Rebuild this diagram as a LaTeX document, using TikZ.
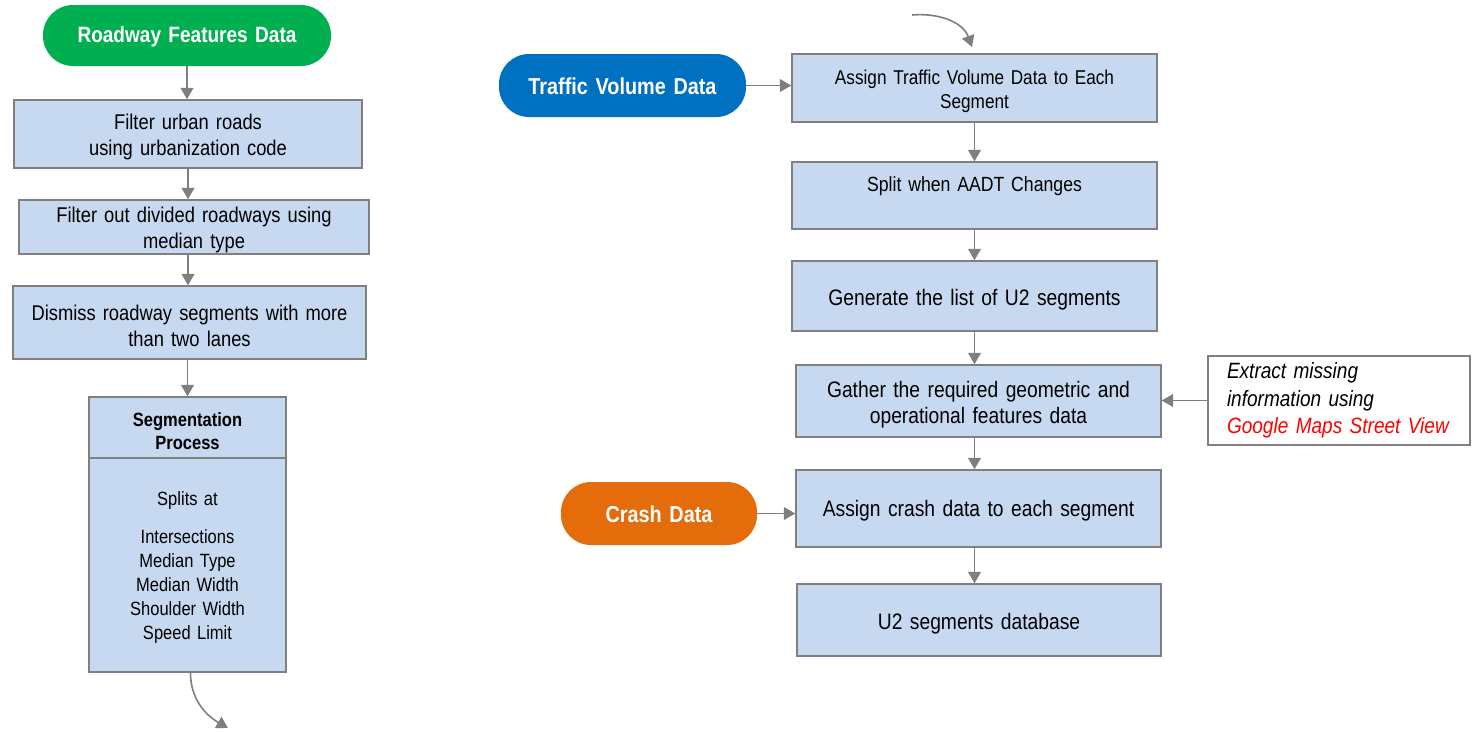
\documentclass[tikz,border=0pt]{standalone}
\usepackage{fontspec}
\setmainfont{Liberation Sans}[FakeStretch=0.86]
\usetikzlibrary{arrows.meta}
\definecolor{boxfill}{HTML}{C6D9F1}
\definecolor{boxline}{HTML}{808080}
\definecolor{arrowgray}{HTML}{7F7F7F}
\definecolor{pillgreen}{HTML}{00B050}
\definecolor{pillblue}{HTML}{0070C0}
\definecolor{pillorange}{HTML}{E46C0A}
\definecolor{linkred}{HTML}{FF0000}
\begin{document}
\begin{tikzpicture}[x=0.75pt,y=-0.75pt,
  box/.style={draw=boxline, line width=1.1pt, fill=boxfill, inner sep=0pt},
  txt/.style={inner sep=0pt, align=center, text width=340*0.75pt,
    font=\fontsize{16}{19.5}\selectfont},
  rtxt/.style={txt, text width=355*0.75pt, font=\fontsize{16.8}{19.5}\selectfont},
  stxt/.style={txt, text width=190*0.75pt},
  pill/.style={rounded corners=22.5pt, inner sep=0pt},
  ptxt/.style={txt, text width=240*0.75pt, text=white,
    font=\fontsize{17.3}{18}\selectfont\bfseries},
  note/.style={draw=boxline, line width=1.1pt, fill=white, inner sep=0pt,
    font=\fontsize{16.6}{20.6}\selectfont},
  arr/.style={draw=arrowgray, line width=1.2pt,
    -{Triangle[length=8.5pt,width=9.5pt]}}]
\useasboundingbox (0,0) rectangle (1476,733);

% left column: roadway features
\node[pill, fill=pillgreen, minimum width=288*0.75pt, minimum height=61*0.75pt]
  (rf) at (187,35.5) {};
\node[ptxt, font=\fontsize{16.6}{18}\selectfont\bfseries]
  (rft) at (187,37) {Roadway Features Data};
\node[box, minimum width=348*0.75pt, minimum height=68*0.75pt] (b1) at (188,134) {};
\node[txt] (b1t) at (188,137) {Filter urban roads\\using urbanization code};
\node[box, minimum width=350*0.75pt, minimum height=54*0.75pt] (b2) at (194,227) {};
\node[txt] (b2t) at (194,230) {Filter out divided roadways using\\median type};
\node[box, minimum width=353*0.75pt, minimum height=73*0.75pt] (b3) at (189.5,322.5) {};
\node[txt] (b3t) at (189.5,325.5) {Dismiss roadway segments with more\\than two lanes};
\node[box, minimum width=197*0.75pt, minimum height=61*0.75pt] (seghead) at (187.5,427.5) {};
\node[stxt, font=\fontsize{14.4}{17.25}\selectfont\bfseries]
  (segheadt) at (187.5,431.5) {Segmentation\\Process};
\node[box, minimum width=197*0.75pt, minimum height=214*0.75pt] (segbody) at (187.5,565) {};
\node[stxt, font=\fontsize{14.4}{18}\selectfont]
  (segbodyt) at (187.5,568) {Splits at\\[10.5pt]Intersections\\Median Type\\Median Width\\Shoulder Width\\Speed Limit};
\coordinate (segout) at (228,728);

\draw[arr] (rf.south) -- (rf.south |- b1.north);
\draw[arr] (b1.south) -- (b1.south |- b2.north);
\draw[arr] ([xshift=-6*0.75pt]b2.south) -- ([xshift=-6*0.75pt]b2.south |- b3.north);
\draw[arr] (b3.south -| seghead.north) -- (seghead.north);
\draw[arr] ([xshift=3*0.75pt]segbody.south) to[out=-90,in=150] (segout);

% right column: traffic volume, crash data and segment processing
\node[pill, fill=pillblue, minimum width=247*0.75pt, minimum height=63*0.75pt]
  (tv) at (622.5,85.5) {};
\node[ptxt] (tvt) at (622.5,86) {Traffic Volume Data};
\node[box, minimum width=365*0.75pt, minimum height=68*0.75pt] (bA) at (974.5,88) {};
\node[rtxt, font=\fontsize{15}{18}\selectfont]
  (bAt) at (974.5,91) {Assign Traffic Volume Data to Each\\Segment};
\node[box, minimum width=365*0.75pt, minimum height=67*0.75pt] (bB) at (974.5,195.5) {};
\node[rtxt, font=\fontsize{15.4}{18}\selectfont]
  (bBt) at (974.5,186) {Split when AADT Changes};
\node[box, minimum width=365*0.75pt, minimum height=70*0.75pt] (bC) at (974.5,296) {};
\node[rtxt] (bCt) at (974.5,300) {Generate the list of U2 segments};
\node[box, minimum width=365*0.75pt, minimum height=72*0.75pt] (bD) at (978.5,401) {};
\node[rtxt] (bDt) at (978.5,404.5) {Gather the required geometric and\\operational features data};
\node[note, minimum width=262*0.75pt, minimum height=89*0.75pt, text width=224*0.75pt,
  align=left]
  (ext) at (1339,400.5) {\itshape Extract missing\\\itshape information using\\\textcolor{linkred}{Google Maps Street View}};
\node[box, minimum width=365*0.75pt, minimum height=77*0.75pt] (bE) at (978.5,508.5) {};
\node[rtxt] (bEt) at (978.5,511) {Assign crash data to each segment};
\node[pill, fill=pillorange, minimum width=196*0.75pt, minimum height=63*0.75pt]
  (cd) at (659,513.5) {};
\node[ptxt, text width=180*0.75pt] (cdt) at (659,514) {Crash Data};
\node[box, minimum width=364*0.75pt, minimum height=72*0.75pt] (bF) at (979,620) {};
\node[rtxt] (bFt) at (979,624) {U2 segments database};
\coordinate (loopin) at (912,15);
\coordinate (loopend) at (972,47);

\draw[arr] (loopin) to[out=5,in=110] (loopend);
\draw[arr] (tv.east) -- (tv.east -| bA.west);
\draw[arr] (bA.south) -- (bA.south |- bB.north);
\draw[arr] (bB.south) -- (bB.south |- bC.north);
\draw[arr] (bC.south) -- (bC.south |- bD.north);
\draw[arr] (bD.south -| bC.south) -- (bC.south |- bE.north);
\draw[arr] (ext.west) -- (ext.west -| bD.east);
\draw[arr] (cd.east) -- (cd.east -| bE.west);
\draw[arr] (bE.south -| bC.south) -- (bC.south |- bF.north);
\end{tikzpicture}
\end{document}
